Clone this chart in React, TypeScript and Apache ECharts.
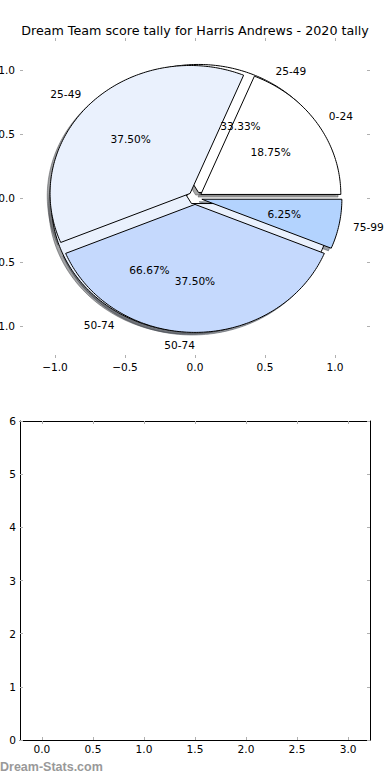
import React, { useEffect, useRef } from "react";
import * as echarts from "echarts";

const titleText = "Dream Team score tally for Harris Andrews - 2020 tally";
const outerLabels = ["0-24", "25-49", "50-74", "75-99"];
const outerValues = [3, 6, 6, 1];
const innerLabels = ["25-49", "50-74"];
const innerValues = [1, 2];
const sliceColors = ["#ffffff", "#eaf1fd", "#c5d9fd", "#b3d3fe"];
const pieTicks = [-1, -0.5, 0, 0.5, 1];
const emptyXTicks = [0, 0.5, 1, 1.5, 2, 2.5, 3];
const emptyYTicks = [0, 1, 2, 3, 4, 5, 6];
const watermark = "Dream-Stats.com";

const EXPLODE = 0.05;
const SHADOW_OFF = -0.02;
const LABEL_DIST = 1.1;
const PCT_DIST = 0.6;
const FONT = "DejaVu Sans";
const FS = 10.6;

function wedgeGeom(values: number[], i: number) {
  const total = values.reduce((a, b) => a + b, 0);
  let before = 0;
  for (let k = 0; k < i; k++) before += values[k];
  const t1 = (before / total) * Math.PI * 2;
  const t2 = ((before + values[i]) / total) * Math.PI * 2;
  const tm = (t1 + t2) / 2;
  const cx = EXPLODE * Math.cos(tm);
  const cy = EXPLODE * Math.sin(tm);
  return { t1, t2, tm, cx, cy, frac: values[i] / total };
}

function shadowColor(hex: string) {
  const h = hex.replace("#", "");
  const r = Math.round(parseInt(h.slice(0, 2), 16) * 0.3);
  const g = Math.round(parseInt(h.slice(2, 4), 16) * 0.3);
  const b = Math.round(parseInt(h.slice(4, 6), 16) * 0.3);
  return `rgba(${r},${g},${b},0.5)`;
}

function wedgeSeries(values: number[], colors: string[], shadow: boolean, z: number) {
  return {
    type: "custom",
    coordinateSystem: "cartesian2d",
    xAxisIndex: 0,
    yAxisIndex: 0,
    z,
    silent: true,
    clip: false,
    data: values.map((v, i) => [i, v]),
    renderItem: (params: any, api: any) => {
      const i = params.dataIndex;
      const g = wedgeGeom(values, i);
      const o = shadow ? SHADOW_OFF : 0;
      const pts: number[][] = [];
      pts.push(api.coord([g.cx + o, g.cy + o]));
      const n = Math.max(2, Math.ceil((g.t2 - g.t1) / (Math.PI / 180)));
      for (let k = 0; k <= n; k++) {
        const t = g.t1 + ((g.t2 - g.t1) * k) / n;
        pts.push(api.coord([g.cx + o + Math.cos(t), g.cy + o + Math.sin(t)]));
      }
      const col = colors[i % colors.length];
      return {
        type: "polygon",
        shape: { points: pts },
        style: shadow
          ? { fill: shadowColor(col), stroke: shadowColor(col), lineWidth: 1 }
          : { fill: col, stroke: "#000", lineWidth: 1 },
      };
    },
  };
}

function labelSeries(values: number[], labels: string[], z: number) {
  return {
    type: "custom",
    coordinateSystem: "cartesian2d",
    xAxisIndex: 0,
    yAxisIndex: 0,
    z,
    silent: true,
    clip: false,
    data: values.map((v, i) => [i, v]),
    renderItem: (params: any, api: any) => {
      const i = params.dataIndex;
      const g = wedgeGeom(values, i);
      const lx = g.cx + LABEL_DIST * Math.cos(g.tm);
      const ly = g.cy + LABEL_DIST * Math.sin(g.tm);
      const px = g.cx + PCT_DIST * Math.cos(g.tm);
      const py = g.cy + PCT_DIST * Math.sin(g.tm);
      const p = api.coord([lx, ly]);
      const q = api.coord([px, py]);
      return {
        type: "group",
        children: [
          {
            type: "text",
            x: p[0],
            y: p[1],
            style: {
              text: labels[i],
              align: lx > 0 ? "left" : "right",
              verticalAlign: "middle",
              fontFamily: FONT,
              fontSize: FS,
              fill: "#000",
            },
          },
          {
            type: "text",
            x: q[0],
            y: q[1],
            style: {
              text: (g.frac * 100).toFixed(2) + "%",
              align: "center",
              verticalAlign: "middle",
              fontFamily: FONT,
              fontSize: FS,
              fill: "#000",
            },
          },
        ],
      };
    },
  };
}

const fmt1 = (v: number) => Number(v).toFixed(1).replace("-", "\u2212");
const fmt0 = (v: number) => String(Math.round(Number(v)));

const tick = (vals: number[]) => ({
  show: true,
  inside: true,
  length: 3,
  customValues: vals,
  lineStyle: { color: "#b0b0b0", width: 1 },
});

function axis(opts: any) {
  const { grid, pos, min, max, ticks, showLabel, frame, fmt, margin } = opts;
  return {
    type: "value",
    gridIndex: grid,
    position: pos,
    min,
    max,
    axisLine: { show: frame, onZero: false, lineStyle: { color: "#000", width: 1 } },
    axisTick: tick(ticks),
    splitLine: { show: false },
    axisLabel: {
      show: showLabel,
      customValues: ticks,
      formatter: fmt,
      margin,
      fontFamily: FONT,
      fontSize: FS,
      color: "#000",
      showMinLabel: true,
      showMaxLabel: true,
    },
  };
}

export default function App() {
  const ref = useRef<HTMLDivElement>(null);
  useEffect(() => {
    if (!ref.current) return;
    const chart = echarts.init(ref.current, undefined, { renderer: "svg" });
    chart.setOption({
      animation: false,
      backgroundColor: "#ffffff",
      title: {
        text: titleText,
        left: "center",
        top: 23,
        padding: 0,
        textStyle: { fontFamily: FONT, fontSize: 12.7, fontWeight: "normal", color: "#000", lineHeight: 14 },
      },
      grid: [
        { left: 20, width: 350, top: 38, height: 320, containLabel: false, outerBoundsMode: "none" },
        { left: 20, width: 350, top: 421, height: 319, containLabel: false, outerBoundsMode: "none" },
      ],
      xAxis: [
        axis({ grid: 0, pos: "bottom", min: -1.25, max: 1.25, ticks: pieTicks, showLabel: true, frame: false, fmt: fmt1, margin: 3 }),
        axis({ grid: 0, pos: "top", min: -1.25, max: 1.25, ticks: pieTicks, showLabel: false, frame: false, fmt: fmt1, margin: 3 }),
        axis({ grid: 1, pos: "bottom", min: -0.215, max: 3.215, ticks: emptyXTicks, showLabel: true, frame: true, fmt: fmt1, margin: 3 }),
        axis({ grid: 1, pos: "top", min: -0.215, max: 3.215, ticks: emptyXTicks, showLabel: false, frame: true, fmt: fmt1, margin: 3 }),
      ],
      yAxis: [
        axis({ grid: 0, pos: "left", min: -1.25, max: 1.25, ticks: pieTicks, showLabel: true, frame: false, fmt: fmt1, margin: 5 }),
        axis({ grid: 0, pos: "right", min: -1.25, max: 1.25, ticks: pieTicks, showLabel: false, frame: false, fmt: fmt1, margin: 5 }),
        axis({ grid: 1, pos: "left", min: 0, max: 6, ticks: emptyYTicks, showLabel: true, frame: true, fmt: fmt0, margin: 4 }),
        axis({ grid: 1, pos: "right", min: 0, max: 6, ticks: emptyYTicks, showLabel: false, frame: true, fmt: fmt0, margin: 4 }),
      ],
      graphic: [
        {
          type: "text",
          x: 0,
          y: 767,
          silent: true,
          style: {
            text: watermark,
            align: "left",
            verticalAlign: "middle",
            fontFamily: "Liberation Sans",
            fontWeight: "bold",
            fontSize: 12.5,
            fill: "#999999",
          },
        },
      ],
      series: [
        wedgeSeries(innerValues, sliceColors, true, 1),
        wedgeSeries(outerValues, sliceColors, true, 1),
        wedgeSeries(innerValues, sliceColors, false, 2),
        wedgeSeries(outerValues, sliceColors, false, 3),
        labelSeries(outerValues, outerLabels, 5),
        labelSeries(innerValues, innerLabels, 5),
      ],
    });
    return () => chart.dispose();
  }, []);
  return (
    <div
      ref={ref}
      style={{ position: "absolute", left: 0, top: 0, width: 390, height: 780, background: "#fff" }}
    />
  );
}
